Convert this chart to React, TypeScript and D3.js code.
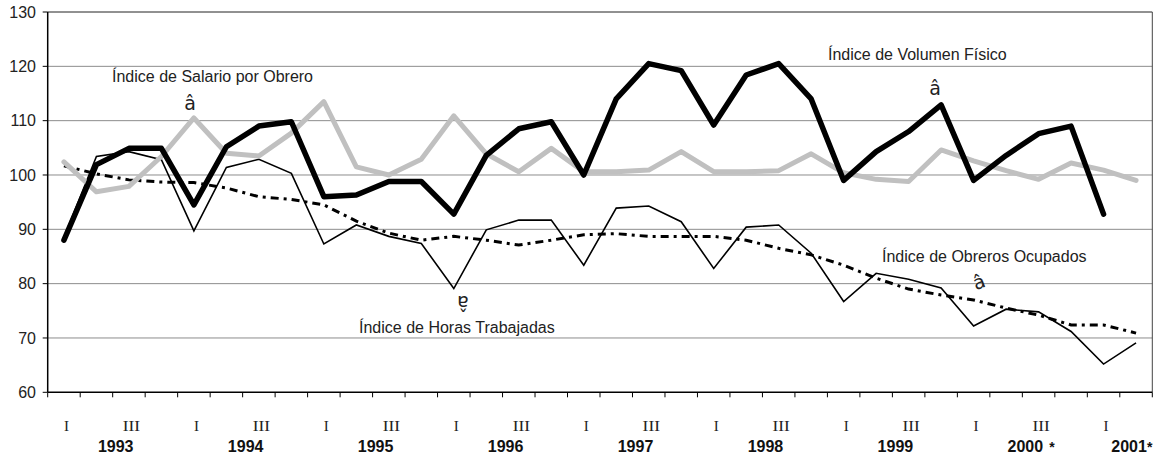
import * as d3 from "d3"

// quarterly series, 1993-I .. 2001-II
const years = ["1993", "1994", "1995", "1996", "1997", "1998", "1999", "2000", "2001"]
const yearMarks = ["", "", "", "", "", "", "", "*", "*"]
const quarterNames = ["I", "", "III", ""]
const categories = years.flatMap((y) => ["I", "II", "III", "IV"].map((q) => `${y}-${q}`)).slice(0, 34)

const volumen = [88, 101.9, 104.9, 104.9, 94.5, 105.2, 109.0, 109.8, 96.0, 96.3, 98.8, 98.8, 92.8, 103.6, 108.5, 109.8, 100.0,
  114.0, 120.5, 119.2, 109.2, 118.4, 120.5, 114.0, 99.0, 104.3, 108.0, 112.9, 99.0, 103.6, 107.6, 109.0, 92.8]
const salario = [102.4, 96.9, 97.9, 103.4, 110.5, 104.0, 103.5, 107.7, 113.5, 101.5, 100.0, 102.9, 110.9, 103.9, 100.6, 104.9,
  100.6, 100.6, 100.9, 104.3, 100.6, 100.6, 100.8, 103.9, 100.4, 99.2, 98.8, 104.6, 102.6, 100.8, 99.2, 102.2, 100.9, 99.0]
const horas = [88.5, 103.4, 104.3, 102.8, 89.7, 101.4, 102.9, 100.3, 87.3, 90.8, 88.7, 87.4, 79.1, 89.9, 91.7, 91.7, 83.4,
  93.9, 94.3, 91.4, 82.8, 90.4, 90.8, 85.6, 76.7, 81.9, 80.8, 79.2, 72.2, 75.3, 74.8, 71.2, 65.2, 69.1]
const obreros = [101.7, 100.2, 99.1, 98.7, 98.6, 97.6, 96.0, 95.5, 94.5, 91.5, 89.3, 88.0, 88.7, 88.0, 87.1, 88.0, 89.0,
  89.2, 88.7, 88.7, 88.7, 88.0, 86.5, 85.3, 83.4, 81.0, 79.0, 77.9, 77.0, 75.5, 74.2, 72.4, 72.4, 70.9]
const yTicks = [60, 70, 80, 90, 100, 110, 120, 130]

const W = 1164
const H = 457
const FONT = "'Liberation Sans', Arial, sans-serif"

export default function App() {
  const x = d3.scaleBand<string>().domain(categories).range([47.7, 1152.3]).padding(0)
  const bw = x.bandwidth()
  const y = d3.scaleLinear().domain([60, 130]).range([392.3, 12])
  const cx = (i: number) => (x(categories[i]) ?? 0) + bw / 2
  const line = d3.line<number>().x((_, i) => cx(i)).y((v) => y(v))
  const [x0, x1] = x.range()
  const [yb, yt] = y.range()

  return (
    <svg width={W} height={H} style={{ position: "absolute", left: 0, top: 0, background: "#fff" }} fontFamily={FONT}>
      {/* grid */}
      {yTicks.filter((t) => t > 60 && t < 130).map((t) => (
        <line key={t} x1={x0} x2={x1} y1={y(t)} y2={y(t)} stroke="#8c8c8c" strokeWidth={1} />
      ))}
      <line x1={x0} x2={x1} y1={yt} y2={yt} stroke="#222" strokeWidth={1} />
      <line x1={x1} x2={x1} y1={yt} y2={yb} stroke="#444" strokeWidth={1} />

      {/* y axis */}
      <line x1={x0} x2={x0} y1={yt} y2={yb} stroke="#000" strokeWidth={1.5} />
      {yTicks.map((t) => (
        <g key={t}>
          <line x1={x0 - 5} x2={x0} y1={y(t)} y2={y(t)} stroke="#000" strokeWidth={1} />
          <text x={36} y={y(t)} dy="0.36em" textAnchor="end" fontSize={16} fill="#222">{t}</text>
        </g>
      ))}

      {/* x axis */}
      <line x1={x0} x2={x1} y1={yb} y2={yb} stroke="#000" strokeWidth={1.5} />
      {d3.range(categories.length + 1).map((i) => (
        <line key={i} x1={x0 + i * bw} x2={x0 + i * bw} y1={yb} y2={yb + 5} stroke="#000" strokeWidth={1} />
      ))}
      {categories.map((c, i) => {
        const q = quarterNames[i % 4]
        if (!q) return null
        const wide = q.length > 1
        return (
          <text key={c} x={cx(i) + 2.5 - (wide ? 8.6 : 0)} y={430.5} fontSize={15} fill="#222"
            textAnchor={wide ? "start" : "middle"}
            fontFamily="'Liberation Serif', 'Times New Roman', serif"
            {...(wide ? { textLength: 17.3, lengthAdjust: "spacingAndGlyphs" } : {})}>{q}</text>
        )
      })}
      {years.map((yr, k) => {
        const last = k === years.length - 1
        const px = last ? cx(categories.length - 1) - 7 : x0 + (2 + 4 * k) * bw + 3
        return (
          <g key={yr}>
            <text x={px} y={452} textAnchor="middle" fontSize={16} fontWeight="bold" fill="#111">{yr}</text>
            {yearMarks[k] && (
              <text x={px + (last ? 18 : 24)} y={452} fontSize={14} fontWeight="bold" fill="#111">{yearMarks[k]}</text>
            )}
          </g>
        )
      })}

      {/* series */}
      <path d={line(horas) ?? ""} fill="none" stroke="#000" strokeWidth={1.6} strokeLinejoin="miter" />
      <path d={line(obreros) ?? ""} fill="none" stroke="#000" strokeWidth={3} strokeDasharray="8,5,3,5" />
      <path d={line(salario) ?? ""} fill="none" stroke="#c0c0c0" strokeWidth={5} strokeLinejoin="round" strokeLinecap="round" />
      <path d={line(volumen) ?? ""} fill="none" stroke="#000" strokeWidth={5.5} strokeLinejoin="round" strokeLinecap="round" />

      {/* annotations */}
      <g fontSize={16} fill="#222">
        <text x={112} y={82}>Índice de Salario por Obrero</text>
        <text x={828} y={60}>Índice de Volumen Físico</text>
        <text x={882} y={262}>Índice de Obreros Ocupados</text>
        <text x={359} y={333}>Índice de Horas Trabajadas</text>
      </g>
      <g fontSize={19} fill="#222" fontFamily="'DejaVu Sans', sans-serif" textAnchor="middle">
        <text x={190} y={110}>â</text>
        <text x={935} y={95}>â</text>
        <text transform="translate(979,282) rotate(-20)" dy="0.35em">â</text>
        <text transform="translate(463,303) rotate(180)" dy="0.35em">â</text>
      </g>
    </svg>
  )
}
